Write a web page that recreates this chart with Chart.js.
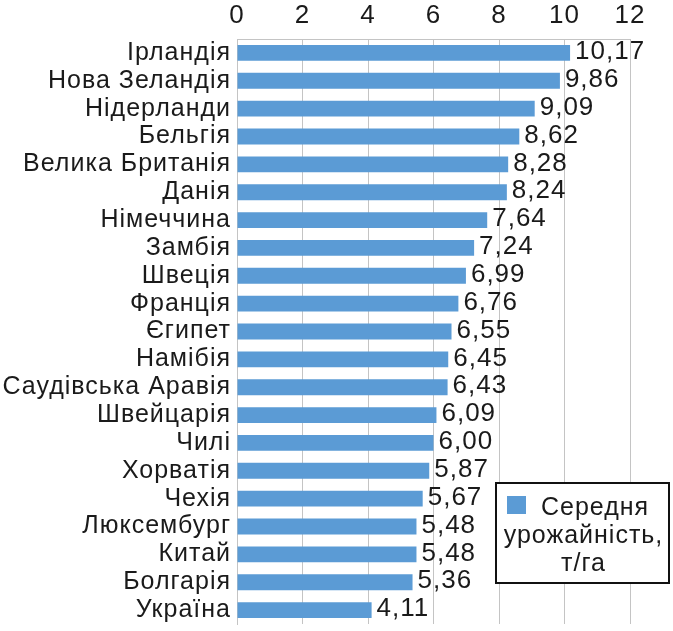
<!DOCTYPE html>
<html>
<head>
<meta charset="utf-8">
<script src="https://cdn.jsdelivr.net/npm/chart.js@4"></script>
<style>
  body { margin: 0; background: #fff; }
</style>
</head>
<body>
<canvas id="grafico" width="673" height="631"></canvas>
<script>
  // Дані
  var countries = ['Ірландія', 'Нова Зеландія', 'Нідерланди', 'Бельгія', 'Велика Британія', 'Данія',
    'Німеччина', 'Замбія', 'Швеція', 'Франція', 'Єгипет', 'Намібія', 'Саудівська Аравія',
    'Швейцарія', 'Чилі', 'Хорватія', 'Чехія', 'Люксембург', 'Китай', 'Болгарія', 'Україна'];
  var yields = [10.17, 9.86, 9.09, 8.62, 8.28, 8.24, 7.64, 7.24, 6.99, 6.76, 6.55, 6.45, 6.43,
    6.09, 6.00, 5.87, 5.67, 5.48, 5.48, 5.36, 4.11];
  var xTicks = [0, 2, 4, 6, 8, 10, 12];
  var legendLines = ['Середня', 'урожайність,', 'т/га'];

  var FONT = '"Liberation Sans", Arial, sans-serif';
  var BLUE = '#5b9bd5';
  var SPACING = '1px';

  // трохи ширші літери, як у оригіналі
  var spacing = {
    id: 'spacing',
    beforeLayout: function (chart) { chart.ctx.letterSpacing = SPACING; },
    beforeDraw: function (chart) { chart.ctx.letterSpacing = SPACING; }
  };

  // Підписи значень
  var valueLabels = {
    id: 'valueLabels',
    afterDatasetsDraw: function (chart) {
      var c = chart.ctx;
      var meta = chart.getDatasetMeta(0);
      c.save();
      c.font = '26px ' + FONT;
      c.fillStyle = '#1a1a1a';
      c.textAlign = 'left';
      c.textBaseline = 'middle';
      meta.data.forEach(function (bar, i) {
        c.fillText(yields[i].toFixed(2).replace('.', ','), bar.x + 5, bar.y - 1);
      });
      c.restore();
    }
  };

  // Легенда в рамці
  var boxLegend = {
    id: 'boxLegend',
    afterDraw: function (chart) {
      var c = chart.ctx;
      var x = 496, y = 483, w = 173, h = 100;
      c.save();
      c.fillStyle = '#fff';
      c.fillRect(x, y, w, h);
      c.strokeStyle = '#111';
      c.lineWidth = 2;
      c.strokeRect(x, y, w, h);
      c.fillStyle = BLUE;
      c.fillRect(507, 496, 19, 18);
      c.fillStyle = '#1a1a1a';
      c.font = '25px ' + FONT;
      c.textBaseline = 'alphabetic';
      c.textAlign = 'left';
      c.fillText(legendLines[0], 541, 515);
      c.textAlign = 'center';
      c.fillText(legendLines[1], x + w / 2 + 1, 543);
      c.fillText(legendLines[2], x + w / 2 + 1, 571);
      c.restore();
    }
  };

  var ctx = document.getElementById('grafico').getContext('2d');
  var grafico = new Chart(ctx, {
    type: 'bar',
    data: {
      labels: countries,
      datasets: [{
        label: legendLines.join(' '),
        data: yields,
        backgroundColor: BLUE,
        barPercentage: 0.57,
        categoryPercentage: 1
      }]
    },
    options: {
      indexAxis: 'y',
      responsive: false,
      animation: false,
      layout: { padding: { top: 0, right: 43, bottom: 7, left: 0 } },
      plugins: {
        legend: { display: false },
        tooltip: { enabled: false }
      },
      scales: {
        x: {
          position: 'top',
          min: 0,
          max: 12,
          afterBuildTicks: function (scale) {
            scale.ticks = xTicks.map(function (v) { return { value: v }; });
          },
          afterFit: function (scale) { scale.height = 39; },
          ticks: {
            color: '#1a1a1a',
            font: { family: FONT, size: 26, lineHeight: 1.1 },
            padding: 9
          },
          grid: { color: '#c4c4c4', drawTicks: false },
          border: { color: '#c4c4c4' }
        },
        y: {
          afterFit: function (scale) {
            scale.width = 237;
            scale.paddingTop = 0;
            scale.paddingBottom = 0;
          },
          ticks: {
            color: '#1a1a1a',
            font: { family: FONT, size: 25 },
            padding: 6,
            autoSkip: false
          },
          grid: { display: false, drawTicks: false },
          border: { color: '#c4c4c4' }
        }
      }
    },
    plugins: [spacing, valueLabels, boxLegend]
  });
</script>
</body>
</html>
